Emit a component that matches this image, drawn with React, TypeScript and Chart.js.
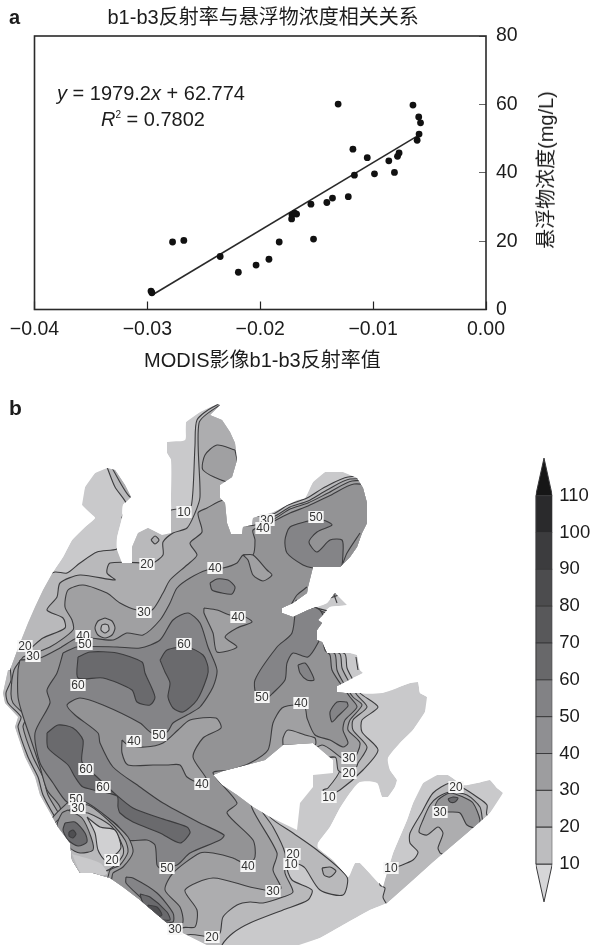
import React, { useEffect, useRef } from "react";
import { Chart, registerables } from "chart.js";

Chart.register(...registerables);

const FONT = '"Liberation Sans", "Noto Sans CJK SC", Arial, sans-serif';
const INK = "#1c1c1c";

// ---------- panel a ----------
const reflectance = [-0.02968, -0.0296, -0.02777, -0.02677, -0.02355, -0.02194, -0.02037, -0.01923, -0.01832, -0.01722, -0.01719, -0.01678, -0.01695, -0.01551, -0.01528, -0.0141, -0.0136, -0.0131, -0.0122, -0.01179, -0.01166, -0.01052, -0.00988, -0.00861, -0.00811, -0.00784, -0.0077, -0.00647, -0.0061, -0.00593, -0.00596, -0.0058];
const concentration = [5.4, 4.9, 19.75, 20.2, 15.5, 10.9, 13.0, 14.7, 19.75, 26.5, 27.7, 27.9, 28.2, 30.8, 20.6, 31.3, 32.6, 60.1, 33.0, 46.9, 39.3, 44.4, 39.7, 43.5, 40.1, 44.8, 45.8, 59.8, 49.5, 51.3, 56.3, 54.6];
const trendX = [-0.0295, -0.00606];
const trendY = [4.4, 50.8];
const xTicks = [-0.04, -0.03, -0.02, -0.01, 0];
const yTicks = [0, 20, 40, 60, 80];

// ---------- colour bar ----------
const legendLevels = [10, 20, 30, 40, 50, 60, 70, 80, 90, 100, 110];
const legendColors = ["#bdbdbf", "#adadaf", "#9d9d9f", "#8f8f92", "#828285", "#68686a", "#58585a", "#4c4c4e", "#3c3c3e", "#2a2a2c"];
const legendTipLow = -0.28;
const legendTipHigh = 120.2;

// ---------- panel b : map units ----------
type P = [number, number];
const C0 = "#c9c9cb", C10 = "#b9b9bb", C20 = "#adadaf", C30 = "#a0a0a2", C40 = "#939395", C50 = "#848487", C60 = "#6a6a6d", C70 = "#4f4f52";

const land: P[] = [[10,670],[20,643],[28,623],[35,607],[43,590],[53,572],[63,557],[72,540],[85,527],[95,518],[90,513],[82,505],[85,487],[95,473],[107,468],[115,470],[125,485],[131,497],[123,505],[122,518],[117,538],[117,550],[122,563],[132,563],[132,547],[138,533],[148,528],[162,535],[171,533],[171,500],[171,460],[167,453],[167,442],[185,440],[186,422],[200,412],[217,404],[220,405],[210,415],[222,420],[230,432],[235,443],[237,460],[232,477],[220,485],[220,498],[225,503],[227,523],[231,534],[242,534],[243,527],[252,525],[253,518],[273,512],[297,500],[305,498],[313,482],[325,472],[343,472],[357,478],[363,488],[367,503],[367,523],[362,533],[357,547],[350,557],[340,567],[313,567],[308,587],[307,593],[293,603],[282,608],[282,613],[293,617],[308,610],[327,603],[335,593],[347,605],[330,607],[318,620],[322,623],[317,630],[317,640],[322,642],[327,653],[350,653],[357,655],[360,670],[363,673],[337,686],[337,692],[345,693],[382,693],[410,683],[418,682],[420,693],[427,697],[425,712],[413,730],[400,743],[388,758],[390,770],[397,780],[395,787],[388,797],[382,797],[377,783],[360,782],[350,793],[340,808],[330,827],[318,843],[318,848],[333,860],[348,877],[355,863],[360,863],[383,887],[385,880],[393,853],[407,820],[413,803],[423,783],[437,775],[448,775],[463,785],[477,783],[490,780],[497,788],[503,793],[490,813],[467,833],[447,850],[433,862],[413,880],[387,903],[370,910],[343,925],[320,938],[290,948],[213,948],[183,933],[167,923],[140,900],[123,887],[110,878],[93,873],[80,873],[72,860],[70,843],[58,827],[40,795],[35,777],[25,757],[15,727],[18,717],[5,703],[3,693],[8,670]];
const innerBay: P[] = [[213,775],[223,771],[250,764],[265,760],[283,745],[313,743],[333,760],[333,773],[313,775],[313,787],[300,803],[297,830],[270,817],[253,807],[237,795],[222,785]];

const level10: P[] = [[40,578],[55,572],[67,573],[80,563],[97,552],[117,549],[125,540],[135,525],[160,520],[168,512],[171,510],[180,509],[190,510],[193,490],[195,445],[197,420],[213,407],[240,398],[245,505],[270,515],[288,505],[307,498],[325,487],[348,477],[385,480],[385,560],[350,583],[322,594],[304,604],[334,614],[327,632],[330,648],[345,654],[347,668],[353,680],[360,693],[378,707],[362,720],[362,732],[378,750],[363,770],[340,790],[328,795],[323,790],[328,788],[340,770],[335,757],[300,770],[265,800],[270,817],[293,833],[317,850],[347,877],[343,895],[320,890],[305,868],[298,864],[287,866],[292,880],[312,890],[308,900],[283,910],[250,923],[233,933],[222,945],[222,952],[60,952],[0,850],[0,640]];
const level20: P[] = [[32,647],[43,638],[65,628],[63,618],[47,610],[57,597],[60,583],[80,575],[115,580],[107,573],[110,563],[147,563],[153,563],[163,555],[163,542],[173,533],[187,528],[195,513],[200,497],[199,423],[217,407],[235,400],[245,510],[272,517],[290,507],[308,501],[327,490],[350,479],[382,485],[382,560],[350,585],[322,596],[307,606],[332,616],[325,632],[327,648],[340,654],[342,668],[348,680],[357,695],[367,707],[353,720],[353,730],[367,747],[358,763],[355,770],[343,773],[338,770],[335,757],[300,765],[258,795],[260,808],[273,827],[285,853],[285,873],[293,892],[283,897],[263,903],[250,902],[237,905],[223,917],[220,933],[212,937],[187,935],[183,950],[150,925],[80,880],[73,843],[61,827],[43,795],[38,777],[28,757],[18,727],[21,717],[8,703],[6,693],[11,680],[10,650]];
const level30: P[] = [[23,657],[50,647],[73,630],[72,620],[65,607],[68,590],[83,585],[107,593],[120,603],[137,610],[152,610],[163,593],[170,580],[187,565],[197,555],[190,543],[202,532],[198,513],[207,508],[223,500],[240,500],[245,525],[272,520],[290,509],[308,503],[328,493],[352,481],[378,485],[378,560],[350,588],[323,598],[310,608],[330,618],[323,632],[325,648],[335,654],[337,670],[343,682],[353,697],[362,705],[350,720],[348,730],[360,743],[353,760],[342,758],[322,745],[300,760],[252,790],[252,808],[277,853],[273,870],[281,888],[273,891],[250,887],[213,878],[185,890],[197,910],[195,927],[182,928],[178,945],[140,910],[85,880],[67,848],[66,827],[48,795],[43,777],[33,757],[23,727],[26,717],[13,703],[11,693],[14,670]];
const level40: P[] = [[20,660],[40,658],[60,648],[77,638],[90,638],[113,640],[127,633],[143,635],[160,620],[170,603],[177,588],[190,578],[207,570],[223,568],[237,563],[243,555],[253,555],[255,540],[253,530],[272,522],[290,513],[308,506],[329,496],[354,484],[375,490],[375,560],[350,590],[325,600],[312,610],[328,620],[322,632],[325,650],[330,655],[332,670],[340,683],[350,697],[357,707],[345,720],[343,730],[348,743],[343,747],[330,740],[315,735],[307,718],[305,708],[295,705],[282,708],[273,723],[268,750],[250,763],[230,770],[213,773],[237,803],[227,813],[253,840],[255,857],[248,865],[233,858],[213,853],[200,853],[173,873],[165,890],[180,907],[183,922],[175,935],[140,905],[120,890],[85,875],[70,850],[62,827],[60,807],[47,790],[40,767],[30,737],[22,713],[18,697],[18,670]];
const level50: P[] = [[63,653],[77,647],[117,647],[140,648],[160,640],[173,620],[188,613],[200,623],[208,647],[217,670],[213,687],[200,707],[187,715],[173,723],[167,732],[152,733],[140,723],[103,705],[80,698],[67,705],[75,715],[98,733],[100,743],[113,767],[140,787],[163,803],[200,823],[224,835],[220,840],[190,853],[177,865],[160,868],[157,865],[155,845],[147,840],[128,840],[117,825],[100,813],[85,805],[67,802],[53,783],[40,763],[35,733],[50,703],[47,690],[57,673]];
const level50Northeast: P[] = [[308,521],[290,527],[285,540],[287,553],[303,565],[313,568],[340,570],[343,553],[342,540],[330,540],[317,552],[309,542],[317,532],[332,525],[323,520]];
const level50Finger: P[] = [[296,600],[292,633],[277,647],[255,680],[257,697],[267,698],[273,693],[285,680],[287,663],[293,653],[308,657],[318,643],[325,625],[320,610]];
const pocket40a: P[] = [[204,608],[217,610],[230,615],[245,617],[252,622],[237,628],[225,637],[237,647],[217,652],[213,633],[204,613]];
const pocket40b: P[] = [[243,555],[253,555],[267,570],[272,575],[263,581],[253,575],[248,560]];
const pocket40c: P[] = [[122,740],[128,745],[145,747],[163,743],[178,730],[190,720],[216,718],[221,728],[203,738],[193,757],[207,780],[200,783],[187,777],[180,765],[167,765],[153,765],[128,765],[122,753]];
const oval50a: P[] = [[210,583],[217,579],[228,580],[235,587],[232,594],[222,593],[212,590]];
const oval50b: P[] = [[298,665],[305,663],[310,670],[314,680],[307,680],[300,673]];
const oval50c: P[] = [[347,702],[348,706],[338,716],[332,722],[330,712],[337,702]];
const lobe30: P[] = [[235,450],[217,445],[205,455],[203,470],[227,482],[240,480]];
const bayLobe: P[] = [[283,745],[283,738],[288,730],[305,735],[315,738],[315,745]];
const peninsula10: P[] = [[107,467],[115,487],[127,505],[122,518],[135,515],[135,460]];
const peninsula20: P[] = [[112,468],[130,497],[140,490],[125,462]];
const bullseyeOuter: P[] = [[105,618],[112,621],[115,628],[112,635],[105,638],[98,635],[95,628],[98,621]];
const bullseyeInner: P[] = [[105,624],[108,625],[109,630],[105,633],[101,630],[102,625]];
const smallRing: P[] = [[151,540],[155,536],[159,540],[155,544]];
const southOval: P[] = [[322,868],[330,867],[336,871],[330,877],[324,875]];
const blobNorthWest: P[] = [[78,657],[90,652],[117,653],[142,662],[145,673],[155,697],[150,705],[137,702],[132,690],[103,678],[78,678]];
const blobNorthEast: P[] = [[160,660],[167,650],[187,647],[203,655],[208,667],[207,677],[197,700],[183,712],[173,708],[168,697],[170,683],[165,672]];
const blobSouthWest: P[] = [[47,733],[58,725],[73,728],[83,740],[82,762],[97,777],[113,792],[133,808],[160,818],[187,827],[190,833],[180,843],[160,833],[133,822],[120,813],[118,807],[117,796],[83,787],[75,777],[68,765],[48,748]];
const sw30: P[] = [[67,803],[85,802],[107,817],[128,837],[133,852],[123,867],[113,873],[110,883],[67,883],[50,823]];
const sw20: P[] = [[72,808],[88,805],[110,822],[125,840],[128,852],[120,865],[110,870],[107,878],[67,883],[53,827]];
const sw10: P[] = [[73,813],[88,813],[112,827],[123,847],[123,855],[113,867],[103,872],[80,875],[68,857],[67,837]];
const swRing: P[] = [[68,810],[82,818],[91,837],[93,850],[80,853],[70,848],[57,827],[62,813]];
const swHot: P[] = [[65,823],[75,822],[85,833],[87,842],[78,846],[68,840],[63,830]];
const swCore: P[] = [[69,832],[73,830],[76,834],[73,838],[69,836]];
const swLight: P[] = [[87,817],[100,827],[115,830],[121,847],[115,855],[105,860],[98,850],[95,833]];
const swPatch: P[] = [[72,854],[100,863],[107,874],[83,875]];
const south50: P[] = [[126,877],[133,878],[157,893],[173,913],[173,922],[160,920],[143,900],[126,883]];
const south60: P[] = [[140,894],[150,897],[167,912],[170,920],[157,918],[143,903]];
const south70: P[] = [[148,905],[157,907],[162,915],[155,917],[148,910]];
const east10: P[] = [[397,867],[413,860],[418,852],[410,843],[410,833],[422,812],[433,793],[450,783],[463,788],[477,797],[487,805],[487,815],[510,825],[450,880],[390,907],[386,903],[383,897],[385,888],[380,885],[380,868]];
const east20: P[] = [[440,853],[438,848],[443,833],[438,827],[427,835],[419,832],[423,820],[430,805],[438,797],[450,792],[467,795],[480,807],[483,823],[490,840],[450,857]];
const east30: P[] = [[448,812],[460,813],[467,825],[477,828],[480,820],[473,803],[463,797],[450,793],[438,800],[434,812]];
const eastOval: P[] = [[448,799],[453,797],[458,798],[455,802],[450,802]];

const mapLayers: { pts: P[]; fill: string; line: boolean }[] = [
  { pts: land, fill: C0, line: false },
  { pts: peninsula10, fill: C10, line: true },
  { pts: peninsula20, fill: C20, line: true },
  { pts: east10, fill: C10, line: true },
  { pts: level10, fill: C10, line: true },
  { pts: smallRing, fill: C20, line: true },
  { pts: southOval, fill: C20, line: true },
  { pts: level20, fill: C20, line: true },
  { pts: east20, fill: C20, line: true },
  { pts: lobe30, fill: C30, line: true },
  { pts: level30, fill: C30, line: true },
  { pts: east30, fill: C40, line: true },
  { pts: eastOval, fill: C60, line: true },
  { pts: bullseyeOuter, fill: C20, line: true },
  { pts: bullseyeInner, fill: C10, line: true },
  { pts: level40, fill: C40, line: true },
  { pts: pocket40a, fill: C30, line: true },
  { pts: pocket40b, fill: C30, line: true },
  { pts: bayLobe, fill: C20, line: true },
  { pts: oval50a, fill: C50, line: true },
  { pts: oval50b, fill: C50, line: true },
  { pts: oval50c, fill: C50, line: true },
  { pts: level50, fill: C50, line: true },
  { pts: level50Northeast, fill: C50, line: true },
  { pts: level50Finger, fill: C50, line: true },
  { pts: pocket40c, fill: C30, line: true },
  { pts: blobNorthWest, fill: C60, line: true },
  { pts: blobNorthEast, fill: C60, line: true },
  { pts: blobSouthWest, fill: C60, line: true },
  { pts: sw30, fill: C30, line: true },
  { pts: sw20, fill: C20, line: true },
  { pts: sw10, fill: C10, line: true },
  { pts: swRing, fill: C40, line: true },
  { pts: swHot, fill: C60, line: true },
  { pts: swCore, fill: C70, line: true },
  { pts: swLight, fill: "#d0d0d2", line: true },
  { pts: swPatch, fill: C0, line: false },
  { pts: south50, fill: C50, line: true },
  { pts: south60, fill: C60, line: true },
  { pts: south70, fill: C70, line: true },
];

const contourTicks: P[][] = [
  [[291, 605], [297, 595], [307, 587]],
  [[360, 533], [347, 553], [343, 563]],
  [[356, 657], [357, 664], [358, 670]],
  [[333, 592], [337, 603]],
];

const contourLabels: [number, number, string][] = [
  [184,512,"10"],[147,564,"20"],[215,568,"40"],[144,612,"30"],[238,617,"40"],[184,644,"60"],[83,636,"40"],[85,644,"50"],[25,646,"20"],[33,656,"30"],[267,520,"30"],[263,528,"40"],[316,517,"50"],
  [78,685,"60"],[262,697,"50"],[134,741,"40"],[159,735,"50"],[202,784,"40"],[86,769,"60"],[103,787,"60"],[76,799,"50"],[78,808,"30"],[112,860,"20"],[167,868,"50"],[248,866,"40"],[175,929,"30"],[212,937,"20"],
  [301,703,"40"],[349,758,"30"],[349,773,"20"],[329,797,"10"],[293,854,"20"],[291,864,"10"],[273,891,"30"],[391,868,"10"],[456,787,"20"],[440,812,"30"],
];

const toXY = (pts: P[]) => pts.map(([x, y]) => ({ x, y }));

export default function App() {
  const aRef = useRef<HTMLCanvasElement>(null);
  const bRef = useRef<HTMLCanvasElement>(null);
  const cRef = useRef<HTMLCanvasElement>(null);

  useEffect(() => {
    const frame = {
      id: "frame",
      afterDraw(ch: any) {
        const { ctx, chartArea: a } = ch;
        ctx.save();
        ctx.strokeStyle = "#2a2a2a";
        ctx.lineWidth = 1.6;
        ctx.strokeRect(a.left, a.top, a.right - a.left, a.bottom - a.top);
        ctx.restore();
      },
    };
    const chartA = new Chart(aRef.current!, {
      type: "scatter",
      plugins: [frame],
      data: {
        datasets: [
          {
            data: reflectance.map((x, i) => ({ x, y: concentration[i] })),
            pointRadius: 3.4,
            pointBackgroundColor: "#111",
            pointBorderWidth: 0,
            showLine: false,
          },
          {
            data: trendX.map((x, i) => ({ x, y: trendY[i] })),
            showLine: true,
            pointRadius: 0,
            borderColor: "#2a2a2a",
            borderWidth: 1.6,
          },
        ],
      },
      options: {
        animation: false,
        responsive: false,
        layout: { autoPadding: false, padding: { left: 34.5, right: 46, top: 36, bottom: 35.5 } },
        plugins: { legend: { display: false }, tooltip: { enabled: false } },
        scales: {
          x: {
            type: "linear",
            min: -0.04,
            max: 0,
            afterFit: (s: any) => { s.height = 40; s.paddingLeft = 0; s.paddingRight = 0; },
            afterBuildTicks: (s: any) => { s.ticks = xTicks.map((value) => ({ value })); },
            grid: { drawOnChartArea: false, drawTicks: true, tickLength: -8, tickColor: "#222", tickWidth: 1.2 },
            border: { display: false },
            ticks: {
              padding: 16,
              color: INK,
              maxRotation: 0,
              autoSkip: false,
              font: { family: FONT, size: 19.5 },
              callback: (v: any) => (Number(v) < 0 ? "\u2212" + Math.abs(Number(v)).toFixed(2) : "0.00"),
            },
          },
          y: {
            type: "linear",
            position: "right",
            min: 0,
            max: 80,
            afterFit: (s: any) => { s.width = 60; },
            afterBuildTicks: (s: any) => { s.ticks = yTicks.map((value) => ({ value })); },
            grid: { drawOnChartArea: false, drawTicks: true, tickLength: -7, tickColor: "#666", tickWidth: 1 },
            border: { display: false },
            ticks: { padding: 17, color: INK, autoSkip: false, font: { family: FONT, size: 19.5 } },
          },
        },
      },
    } as any);

    const coast = {
      id: "coast",
      beforeDatasetsDraw(ch: any) {
        const { ctx, scales } = ch;
        const path = new Path2D();
        for (const ring of [land, innerBay]) {
          ring.forEach(([x, y], i) => {
            const px = scales.x.getPixelForValue(x);
            const py = scales.y.getPixelForValue(y);
            if (i === 0) path.moveTo(px, py);
            else path.lineTo(px, py);
          });
          path.closePath();
        }
        ctx.save();
        ctx.clip(path, "evenodd");
      },
      afterDatasetsDraw(ch: any) {
        ch.ctx.restore();
      },
      afterDraw(ch: any) {
        const { ctx, scales } = ch;
        ctx.save();
        ctx.font = `12px ${FONT}`;
        ctx.textAlign = "center";
        ctx.textBaseline = "middle";
        for (const [x, y, t] of contourLabels) {
          const px = scales.x.getPixelForValue(x);
          const py = scales.y.getPixelForValue(y);
          const w = ctx.measureText(t).width + 2;
          ctx.fillStyle = "#f6f6f6";
          ctx.fillRect(px - w / 2, py - 6, w, 12);
          ctx.fillStyle = "#333";
          ctx.fillText(t, px, py + 0.5);
        }
        ctx.restore();
      },
    };

    const filled = mapLayers.map((l) => ({
      data: toXY([...l.pts, l.pts[0]]),
      showLine: true,
      fill: "shape",
      backgroundColor: l.fill,
      borderColor: l.line ? "#3c3c3e" : l.fill,
      borderWidth: l.line ? 1.1 : 0,
      pointRadius: 0,
      tension: 0.25,
    }));
    const ticksLayer = contourTicks.map((t) => ({
      data: toXY(t),
      showLine: true,
      fill: false,
      borderColor: "#3c3c3e",
      borderWidth: 1.1,
      pointRadius: 0,
      tension: 0.25,
    }));

    const chartB = new Chart(bRef.current!, {
      type: "scatter",
      plugins: [coast],
      // the first dataset is painted last, so the stack is reversed
      data: { datasets: [...ticksLayer, ...filled.reverse()] },
      options: {
        animation: false,
        responsive: false,
        layout: { padding: 0 },
        plugins: { legend: { display: false }, tooltip: { enabled: false } },
        scales: {
          x: { type: "linear", min: 0, max: 530, display: false },
          y: { type: "linear", min: 385, max: 945, reverse: true, display: false },
        },
      },
    } as any);

    const rect = (lo: number, hi: number) => [
      { x: 0, y: lo }, { x: 1, y: lo }, { x: 1, y: hi }, { x: 0, y: hi }, { x: 0, y: lo },
    ];
    const bar = (data: any[], color: string) => ({
      data,
      showLine: true,
      fill: "shape",
      backgroundColor: color,
      borderColor: "#3a3a3c",
      borderWidth: 1,
      pointRadius: 0,
    });
    const first = legendLevels[0];
    const last = legendLevels[legendLevels.length - 1];
    const chartC = new Chart(cRef.current!, {
      type: "scatter",
      data: {
        datasets: [
          ...legendColors.map((c, i) => bar(rect(legendLevels[i], legendLevels[i + 1]), c)),
          bar([{ x: 0, y: last }, { x: 0.5, y: legendTipHigh }, { x: 1, y: last }, { x: 0, y: last }], "#161616"),
          bar([{ x: 0, y: first }, { x: 0.5, y: legendTipLow }, { x: 1, y: first }, { x: 0, y: first }], "#d6d6d8"),
        ],
      },
      options: {
        animation: false,
        responsive: false,
        layout: { padding: { left: 35.7, right: 0, top: 7, bottom: 5 } },
        plugins: { legend: { display: false }, tooltip: { enabled: false } },
        scales: {
          x: { type: "linear", min: 0, max: 1, display: false },
          y: {
            type: "linear",
            position: "right",
            min: legendTipLow,
            max: legendTipHigh,
            afterFit: (s: any) => { s.width = 39.7; },
            afterBuildTicks: (s: any) => { s.ticks = legendLevels.map((value) => ({ value })); },
            grid: { display: false, drawTicks: false },
            border: { display: false },
            ticks: { padding: 7, color: INK, autoSkip: false, font: { family: FONT, size: 18.5 } },
          },
        },
      },
    } as any);

    return () => {
      chartA.destroy();
      chartB.destroy();
      chartC.destroy();
    };
  }, []);

  const text = (style: React.CSSProperties): React.CSSProperties => ({
    position: "absolute",
    fontFamily: FONT,
    color: INK,
    whiteSpace: "nowrap",
    lineHeight: "20px",
    ...style,
  });

  return (
    <div style={{ position: "absolute", left: 0, top: 0, width: 592, height: 945, overflow: "hidden", background: "#fff" }}>
      <canvas ref={bRef} width={530} height={560} style={{ position: "absolute", left: 0, top: 385, display: "block", filter: "blur(0.4px)" }} />
      <canvas ref={aRef} width={592} height={385} style={{ position: "absolute", left: 0, top: 0, display: "block" }} />
      <canvas ref={cRef} width={92} height={480} style={{ position: "absolute", left: 500, top: 440, display: "block" }} />
      <div style={text({ left: 9, top: 7, fontSize: 20, fontWeight: 700 })}>a</div>
      <div style={text({ left: 9, top: 398, fontSize: 21, fontWeight: 700 })}>b</div>
      <div style={text({ left: 107.5, top: 7, fontSize: 20 })}>b1-b3反射率与悬浮物浓度相关关系</div>
      <div style={text({ left: 144, top: 350, fontSize: 20 })}>MODIS影像b1-b3反射率值</div>
      <div style={text({ left: 57, top: 83, fontSize: 20 })}><i>y</i> = 1979.2<i>x</i> + 62.774</div>
      <div style={text({ left: 101, top: 109, fontSize: 20 })}><i>R</i><sup style={{ fontSize: 10, lineHeight: 0 }}>2</sup> = 0.7802</div>
      <div
        style={text({
          left: 546,
          top: 170,
          fontSize: 20,
          transform: "translate(-50%, -50%) rotate(-90deg)",
        })}
      >
        悬浮物浓度(mg/L)
      </div>
    </div>
  );
}
